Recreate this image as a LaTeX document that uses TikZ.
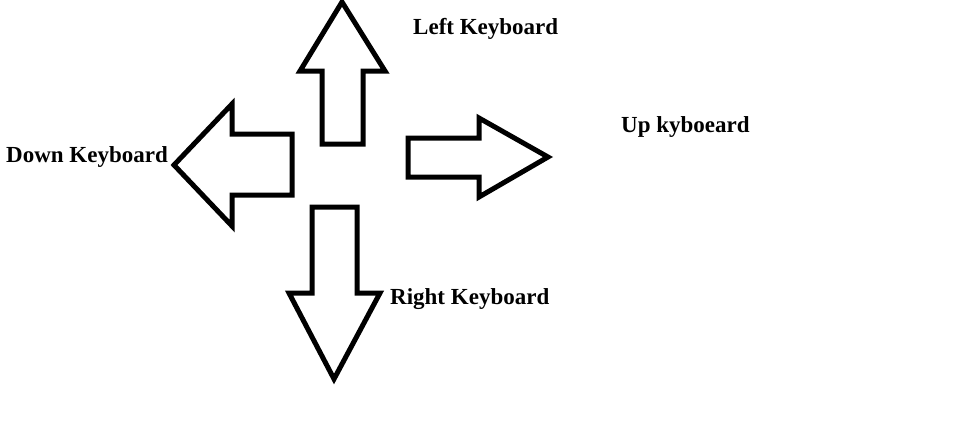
\documentclass[tikz,border=0pt]{standalone}
\usepackage{fontspec}
\setmainfont{Liberation Serif}
\begin{document}
\begin{tikzpicture}[x=1pt,y=-1pt,
  arrowshape/.style={draw=black,line width=5pt,line join=miter,fill=white},
  lbl/.style={anchor=base west,inner sep=0pt,font=\bfseries\fontsize{23}{27}\selectfont}]
\useasboundingbox (0,0) rectangle (972,440);
% up arrow
\draw[arrowshape] (342,2) -- (385,71) -- (363,71) -- (363,144) -- (322,144) -- (322,71) -- (300,71) -- cycle;
% left arrow
\draw[arrowshape] (174,165) -- (232,104) -- (232,134) -- (292,134) -- (292,195) -- (232,195) -- (232,226) -- cycle;
% right arrow
\draw[arrowshape] (548,157) -- (479,118) -- (479,138) -- (408,138) -- (408,177) -- (479,177) -- (479,197) -- cycle;
% down arrow
\draw[arrowshape] (334,379) -- (380,293) -- (357,293) -- (357,207) -- (312,207) -- (312,293) -- (289,293) -- cycle;
\node[lbl] (left) at (413,34) {Left Keyboard};
\node[lbl] (up) at (621,132) {Up kyboeard};
\node[lbl] (down) at (6,162) {Down Keyboard};
\node[lbl] (right) at (390,304) {Right Keyboard};
\end{tikzpicture}
\end{document}
